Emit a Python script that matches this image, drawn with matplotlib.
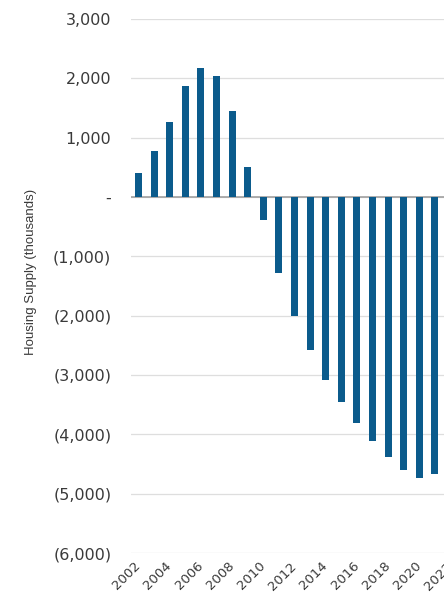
"""Annual housing supply surplus / shortfall, 2002 onward."""
import matplotlib
matplotlib.use('Agg')
import matplotlib.pyplot as plt
from matplotlib.ticker import FuncFormatter

# ── Data (thousands of units) ─────────────────────────────────────────────────
years = list(range(2002, 2022))
supply = [405, 782, 1271, 1867, 2176, 2047, 1457, 513,
          -393, -1275, -2007, -2580, -3086, -3462, -3805, -4108,
          -4390, -4609, -4744, -4676]
label_years = list(range(2002, 2024, 2))

BAR = '#0b5b8c'
TXT = '#3a3a3a'

fig = plt.figure(figsize=(4.44, 6.01), dpi=100)
# axes runs past the right edge of the canvas, so the last years are cut off
ax = fig.add_axes([130.7 / 444, 48 / 601, 327.6 / 444, 534 / 601])

ax.bar(years, supply, width=0.46, color=BAR, zorder=3)

ax.set_xlim(2001.5, 2022.5)
ax.set_ylim(-6000, 3000)
ax.set_yticks(range(-6000, 3001, 1000))


def fmt(v, _):
    if v == 0:
        return '-'
    if v < 0:
        return f'({abs(v):,.0f})'
    return f'{v:,.0f}'


ax.yaxis.set_major_formatter(FuncFormatter(fmt))
ax.set_xticks(label_years)
ax.set_xticklabels([str(y) for y in label_years], rotation=45,
                   ha='right', va='center', rotation_mode='anchor',
                   family='DejaVu Sans', fontsize=9.5, color=TXT)
for t in ax.get_yticklabels():
    t.set_family('DejaVu Sans')

ax.tick_params(axis='y', length=0, pad=14, labelsize=11.5, labelcolor=TXT)
ax.tick_params(axis='x', length=0, pad=8)

ax.grid(axis='y', color='#dedede', linewidth=0.9, zorder=0)
ax.axhline(0, color='#a0a0a0', linewidth=1.2, zorder=2)

for s in ax.spines.values():
    s.set_visible(False)

ax.set_ylabel('Housing Supply (thousands)', fontsize=9.5, color=TXT,
              family='Liberation Sans')
ax.yaxis.set_label_coords(-0.285, 0.526)

fig.savefig('out.png', dpi=100, facecolor='white')
